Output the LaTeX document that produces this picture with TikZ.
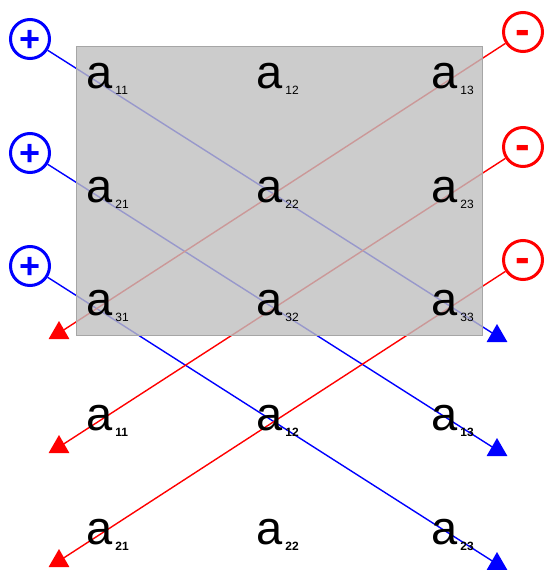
\documentclass[tikz,border=0pt]{standalone}
\usepackage{fontspec}
\setmainfont{Liberation Sans}
\usetikzlibrary{shapes.geometric}
\newcommand{\myplus}{\raisebox{-12.4pt}[0pt][0pt]{+}}
\newcommand{\myminus}{\raisebox{-12pt}[0pt][0pt]{-}}
\begin{document}
\begin{tikzpicture}[x=1pt,y=-1pt,
  ent/.style={inner sep=0pt,font=\fontsize{47}{47}\selectfont},
  subs/.style={inner sep=0pt,anchor=base west,font=\fontsize{12}{12}\selectfont},
  subsb/.style={inner sep=0pt,anchor=base west,font=\fontsize{12}{12}\selectfont\bfseries},
  plus/.style={circle,draw=blue,line width=3pt,minimum size=39pt,inner sep=0pt,text=blue,font=\fontsize{36}{36}\selectfont\bfseries},
  minus/.style={circle,draw=red,line width=3pt,minimum size=39pt,inner sep=0pt,text=red,font=\fontsize{44}{44}\selectfont\bfseries},
  bl/.style={draw=blue,line width=1.4pt},
  rl/.style={draw=red,line width=1.4pt},
  tri/.style={regular polygon,regular polygon sides=3,minimum size=24pt,inner sep=0pt,fill=#1},
]
\useasboundingbox (0,0) rectangle (544,570);
% circles
\node[plus] (p1) at (30,39) {\myplus};
\node[plus] (p2) at (30,153) {\myplus};
\node[plus] (p3) at (30,266) {\myplus};
\node[minus] (m1) at (523,32) {\myminus};
\node[minus] (m2) at (523,147) {\myminus};
\node[minus] (m3) at (523,260) {\myminus};
% arrow heads
\node[tri=blue] (b1) at (497,336) {};
\node[tri=blue] (b2) at (497,450) {};
\node[tri=blue] (b3) at (497,564) {};
\node[tri=red] (r1) at (59,333) {};
\node[tri=red] (r2) at (59,447) {};
\node[tri=red] (r3) at (59,561) {};
\draw[bl] (p1) -- (b1.center);
\draw[bl] (p2) -- (b2.center);
\draw[bl] (p3) -- (b3.center);
\draw[rl] (m1) -- (r1.center);
\draw[rl] (m2) -- (r2.center);
\draw[rl] (m3) -- (r3.center);
% gray box
\node[draw=black!35,fill=black!25,fill opacity=0.8,line width=1pt,minimum width=406pt,minimum height=289pt,inner sep=0pt] (box) at (279,191) {};
% entries
\foreach \r/\y in {1/76,2/190,3/303}{
  \foreach \c/\x in {1/100,2/270,3/445}{
    \node[ent] (a\r\c) at (\x,\y) {a};
    \node[subs] (s\r\c) at ([xshift=2pt,yshift=-6pt]a\r\c.base east) {\r\c};
  }
}
\foreach \r/\rr/\y in {4/1/418,5/2/532}{
  \foreach \c/\x in {1/100,2/270,3/445}{
    \node[ent] (a\r\c) at (\x,\y) {a};
    \node[subsb] (s\r\c) at ([xshift=2pt,yshift=-6pt]a\r\c.base east) {\rr\c};
  }
}
\end{tikzpicture}
\end{document}
